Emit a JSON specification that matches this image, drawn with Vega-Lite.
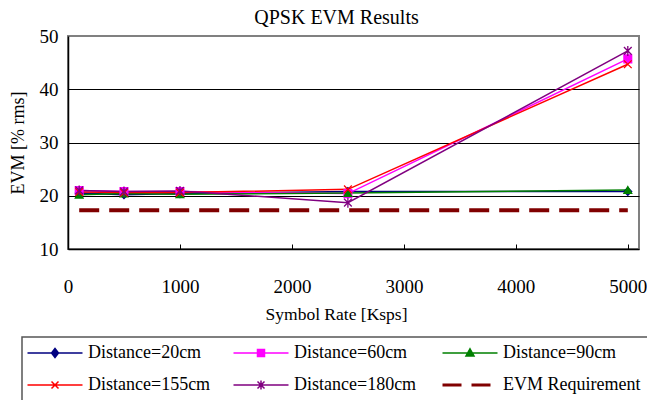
{
  "$schema": "https://vega.github.io/schema/vega-lite/v6.json",
  "width": 571,
  "height": 213,
  "autosize": {"type": "none"},
  "padding": {"left": 68, "top": 36, "right": 8, "bottom": 151},
  "background": "white",
  "config": {"font": "Liberation Serif", "view": {"stroke": "#808080", "strokeWidth": 2}, "legend": {"strokeWidth": 1.5}},
  "title": {"text": "QPSK EVM Results", "fontSize": 20, "fontWeight": "normal", "font": "Liberation Serif", "color": "black", "offset": -1, "frame": "group", "anchor": "middle", "dx": -17},
  "data": {"values": [
    {"series": "Distance=20cm", "x": 100, "y": 20.5},
    {"series": "Distance=20cm", "x": 500, "y": 20.2},
    {"series": "Distance=20cm", "x": 1000, "y": 20.4},
    {"series": "Distance=20cm", "x": 2500, "y": 20.8},
    {"series": "Distance=20cm", "x": 5000, "y": 20.8},
    {"series": "Distance=60cm", "x": 100, "y": 21.0},
    {"series": "Distance=60cm", "x": 500, "y": 20.8},
    {"series": "Distance=60cm", "x": 1000, "y": 20.8},
    {"series": "Distance=60cm", "x": 2500, "y": 20.4},
    {"series": "Distance=60cm", "x": 5000, "y": 45.7},
    {"series": "Distance=90cm", "x": 100, "y": 20.2},
    {"series": "Distance=90cm", "x": 500, "y": 20.4},
    {"series": "Distance=90cm", "x": 1000, "y": 20.3},
    {"series": "Distance=90cm", "x": 2500, "y": 20.5},
    {"series": "Distance=90cm", "x": 5000, "y": 21.1},
    {"series": "Distance=155cm", "x": 100, "y": 20.7},
    {"series": "Distance=155cm", "x": 500, "y": 20.6},
    {"series": "Distance=155cm", "x": 1000, "y": 20.6},
    {"series": "Distance=155cm", "x": 2500, "y": 21.2},
    {"series": "Distance=155cm", "x": 5000, "y": 44.7},
    {"series": "Distance=180cm", "x": 100, "y": 21.0},
    {"series": "Distance=180cm", "x": 500, "y": 20.8},
    {"series": "Distance=180cm", "x": 1000, "y": 20.9},
    {"series": "Distance=180cm", "x": 2500, "y": 18.7},
    {"series": "Distance=180cm", "x": 5000, "y": 47.2},
    {"series": "EVM Requirement", "x": 100, "y": 17.3},
    {"series": "EVM Requirement", "x": 5000, "y": 17.3}
  ]},
  "encoding": {
    "x": {"field": "x", "type": "quantitative", "scale": {"domain": [0, 5100], "nice": false},
      "axis": {"values": [0, 1000, 2000, 3000, 4000, 5000], "format": "d", "title": "Symbol Rate [Ksps]", "grid": false, "domainColor": "black", "domainWidth": 1.5, "tickColor": "black", "tickSize": -5, "tickWidth": 1, "labelPadding": 33, "labelFontSize": 19, "labelFont": "Liberation Serif", "labelColor": "black", "labelFlush": false, "titleFontSize": 17.5, "titleFont": "Liberation Serif", "titleFontWeight": "normal", "titleColor": "black", "titlePadding": 9, "titleX": 268}},
    "y": {"field": "y", "type": "quantitative", "scale": {"domain": [10, 50], "nice": false},
      "axis": {"values": [10, 20, 30, 40, 50], "title": "EVM [% rms]", "ticks": false, "domainColor": "black", "domainWidth": 1.5, "grid": true, "gridColor": "black", "gridWidth": 1, "gridOpacity": {"condition": {"test": "datum.value >= 50 || datum.value <= 10", "value": 0}, "value": 1}, "labelPadding": 10, "labelFontSize": 19, "labelFont": "Liberation Serif", "labelColor": "black", "titleFontSize": 18, "titleFont": "Liberation Serif", "titleFontWeight": "normal", "titleColor": "black", "titleX": -41}}
  },
  "layer": [
    {
      "transform": [{"filter": "datum.series !== 'EVM Requirement'"}],
      "mark": {"type": "line", "strokeWidth": 1.5},
      "encoding": {
        "color": {"field": "series", "type": "nominal",
          "scale": {"domain": ["Distance=20cm", "Distance=60cm", "Distance=90cm", "Distance=155cm", "Distance=180cm", "EVM Requirement"], "range": ["#000080", "#FF00FF", "#008000", "#FF0000", "#800080", "#800000"]},
          "legend": {"orient": "none", "legendX": -46, "legendY": 301, "title": null, "columns": 3, "direction": "horizontal", "gridAlign": "each", "columnPadding": 19, "rowPadding": 14, "padding": 7, "strokeColor": "#555555", "fillColor": "white", "symbolSize": 100, "symbolOffset": 17, "labelOffset": 24, "symbolStrokeWidth": 1.5, "labelFontSize": 18, "labelFont": "Liberation Serif", "labelColor": "black", "labelLimit": 300,
            "encode": {"symbols": {"update": {
              "shape": {"signal": "datum.value === 'Distance=20cm' ? 'M-5.5,0H5.5M0,-0.9L0.7,0L0,0.9L-0.7,0Z' : datum.value === 'Distance=60cm' ? 'M-5.5,0H5.5M-0.7,-0.7H0.7V0.7H-0.7Z' : datum.value === 'Distance=90cm' ? 'M-5.5,0H5.5M0,-0.85L0.8,0.6H-0.8Z' : datum.value === 'Distance=155cm' ? 'M-5.5,0H5.5M-0.7,-0.7L0.7,0.7M-0.7,0.7L0.7,-0.7' : datum.value === 'Distance=180cm' ? 'M-5.5,0H5.5M-0.7,-0.7L0.7,0.7M-0.7,0.7L0.7,-0.7M0,-0.9V0.9' : 'M-5.5,0H-1.7M0.3,0H4.1'"},
              "fill": {"signal": "scale('color', datum.value)"},
              "stroke": {"signal": "scale('color', datum.value)"},
              "strokeWidth": {"signal": "datum.value === 'EVM Requirement' ? 3 : 1.5"},
              "opacity": {"value": 1}
            }}}
          }}
      }
    },
    {
      "transform": [{"filter": "datum.series === 'EVM Requirement'"}],
      "mark": {"type": "line", "strokeWidth": 4, "strokeDash": [20, 10]},
      "encoding": {
        "color": {"field": "series", "type": "nominal", "legend": null}
      }
    },
    {
      "transform": [{"filter": "datum.series !== 'EVM Requirement'"}],
      "mark": {"type": "point", "filled": true, "size": 60, "strokeWidth": 1.3, "opacity": 1},
      "encoding": {
        "color": {"field": "series", "type": "nominal", "legend": null},
        "stroke": {"field": "series", "type": "nominal", "legend": null,
          "scale": {"domain": ["Distance=20cm", "Distance=60cm", "Distance=90cm", "Distance=155cm", "Distance=180cm"], "range": ["#000080", "#FF00FF", "#008000", "#FF0000", "#800080"]}},
        "shape": {"field": "series", "type": "nominal", "legend": null,
          "scale": {"domain": ["Distance=20cm", "Distance=60cm", "Distance=90cm", "Distance=155cm", "Distance=180cm"], "range": ["diamond", "square", "triangle-up", "M-1,-1L1,1M-1,1L1,-1", "M-1,-1L1,1M-1,1L1,-1M0,-1.3V1.3"]}}
      }
    }
  ]
}
